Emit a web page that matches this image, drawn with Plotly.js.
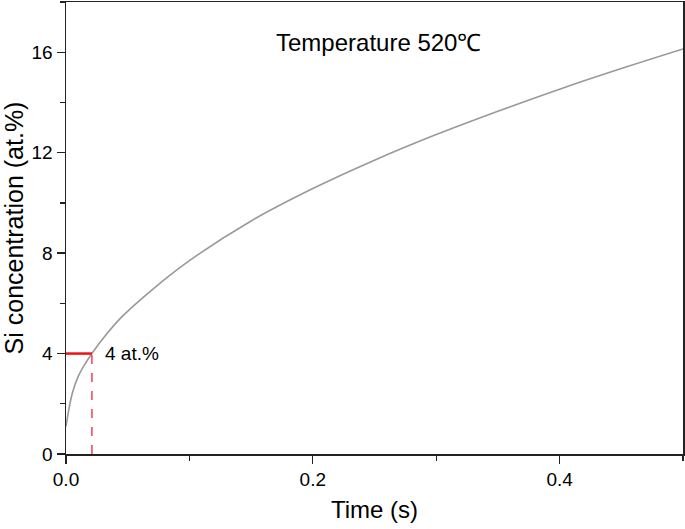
<!DOCTYPE html>
<html>
<head>
<meta charset="utf-8">
<script src="https://cdn.plot.ly/plotly-3.0.1.min.js"></script>
<style>html,body{margin:0;padding:0;background:#fff;}#chart{width:685px;height:529px;}</style>
</head>
<body>
<div id="chart"></div>
<script>
// Data
var timeS = [0, 0.005, 0.01, 0.015, 0.021, 0.03, 0.045, 0.07, 0.1, 0.15, 0.2, 0.25, 0.3, 0.35, 0.4, 0.45, 0.5];
var siConc = [1.1, 2.4, 3.1, 3.55, 4.0, 4.6, 5.45, 6.55, 7.7, 9.28, 10.57, 11.7, 12.72, 13.65, 14.53, 15.35, 16.13];
var markT = 0.021;
var markC = 4;
var chartTitle = "Temperature 520℃";
var markLabel = "4 at.%";

var font = "Liberation Sans, Arial, sans-serif";

var traces = [
  {x: timeS, y: siConc, mode: "lines", line: {color: "#999999", width: 1.6, shape: "spline", smoothing: 1.0}, hoverinfo: "skip"},
  {x: [0, markT], y: [markC, markC], mode: "lines", line: {color: "#ee1111", width: 2.5}, hoverinfo: "skip"},
  {x: [markT, markT], y: [0, markC], mode: "lines", line: {color: "#f04060", width: 1.5, dash: "dash"}, hoverinfo: "skip"}
];

var layout = {
  width: 685, height: 529,
  margin: {l: 66, r: 2, t: 2, b: 75},
  paper_bgcolor: "#fff", plot_bgcolor: "#fff",
  showlegend: false,
  font: {family: font, color: "#000"},
  xaxis: {
    range: [0, 0.5], dtick: 0.2, tick0: 0, tickformat: ".1f",
    showgrid: false, zeroline: false,
    showline: true, linecolor: "#222", linewidth: 1.5, mirror: true,
    ticks: "outside", ticklen: 8, tickwidth: 1.3, tickcolor: "#222",
    minor: {dtick: 0.1, ticks: "outside", ticklen: 5, tickwidth: 1.3, tickcolor: "#222", showgrid: false},
    tickfont: {size: 19, family: font, color: "#000"},
    title: {text: "Time (s)", font: {size: 24, family: font, color: "#000"}, standoff: 12}
  },
  yaxis: {
    range: [0, 18], dtick: 4, tick0: 0,
    showgrid: false, zeroline: false,
    showline: true, linecolor: "#222", linewidth: 1.5, mirror: true,
    ticks: "outside", ticklen: 8, tickwidth: 1.3, tickcolor: "#222",
    minor: {dtick: 2, ticks: "outside", ticklen: 5, tickwidth: 1.3, tickcolor: "#222", showgrid: false},
    tickfont: {size: 19, family: font, color: "#000"},
    title: {text: "Si concentration (at.%)", font: {size: 25, family: font, color: "#000"}, standoff: 8}
  },
  annotations: [
    {x: 0.253, y: 16.4, xref: "x", yref: "y", text: chartTitle, showarrow: false,
     font: {size: 24, family: font, color: "#000"}, xanchor: "center", yanchor: "middle"},
    {x: 0.03, y: markC, xref: "x", yref: "y", text: markLabel, showarrow: false,
     font: {size: 19, family: font, color: "#000"}, xanchor: "left", yanchor: "middle"}
  ]
};

Plotly.newPlot("chart", traces, layout, {displayModeBar: false, staticPlot: true});
</script>
</body>
</html>
